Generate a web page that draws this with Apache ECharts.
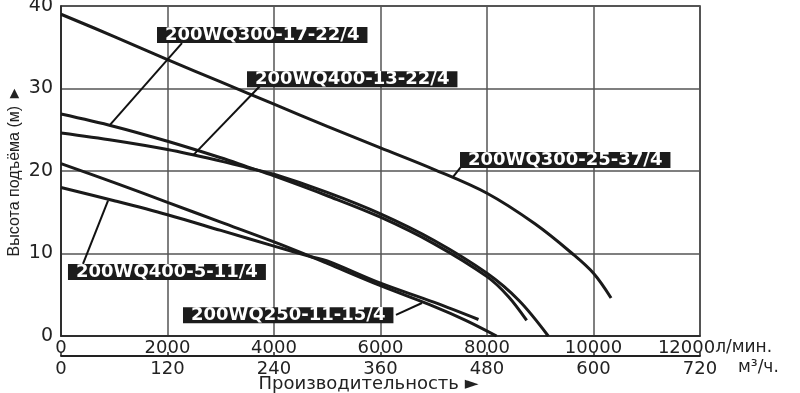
<!DOCTYPE html>
<html>
<head>
<meta charset="utf-8">
<script src="https://cdn.jsdelivr.net/npm/echarts@6/dist/echarts.min.js"></script>
<style>html,body{margin:0;padding:0;background:#fff;}#c{width:800px;height:393px;}</style>
</head>
<body>
<div id="c"></div>
<script>
// Flow ticks (л/мин.) and secondary ticks (м³/ч.)
const flowTicksLmin = [0, 2000, 4000, 6000, 8000, 10000, 12000];
const flowTicksM3h = [0, 120, 240, 360, 480, 600, 720];
const headTicks = [0, 10, 20, 30, 40];

// Curve: 200WQ300-25-37/4
const q300_25 = [0, 1000, 2000, 3000, 4000, 5000, 6000, 7000, 8000, 8900, 9600, 10000, 10330];
const h300_25 = [39.0, 36.3, 33.5, 30.8, 28.1, 25.4, 22.8, 20.2, 17.3, 13.6, 10.0, 7.6, 4.6];
// Curve: 200WQ300-17-22/4
const q300_17 = [0, 1000, 2000, 3000, 3500, 4000, 5000, 6000, 7000, 8000, 8400, 8745];
const h300_17 = [26.9, 25.4, 23.6, 21.6, 20.5, 19.4, 17.0, 14.4, 11.2, 7.2, 4.8, 1.9];
// Curve: 200WQ400-13-22/4
const q400_13 = [0, 1000, 2000, 3000, 3500, 4000, 5000, 6000, 7000, 8000, 8600, 9150];
const h400_13 = [24.6, 23.7, 22.6, 21.2, 20.4, 19.6, 17.4, 14.8, 11.6, 7.6, 4.3, 0];
// Curve: 200WQ250-11-15/4
const q250_11 = [0, 1000, 2000, 3000, 4000, 4700, 5000, 6000, 7000, 7600, 8180];
const h250_11 = [20.9, 18.6, 16.2, 13.8, 11.4, 9.6, 8.8, 6.1, 3.6, 1.9, 0];
// Curve: 200WQ400-5-11/4
const q400_5 = [0, 1000, 2000, 3000, 4000, 4700, 5000, 6000, 7000, 7840];
const h400_5 = [18.0, 16.4, 14.7, 12.8, 10.9, 9.6, 9.1, 6.4, 4.1, 2.0];

// Annotation labels: name, box top-left (data coords), pointer start (data), pointer end on curve (data)
const labelNames = ['200WQ300-17-22/4', '200WQ400-13-22/4', '200WQ300-25-37/4', '200WQ400-5-11/4', '200WQ250-11-15/4'];
const labelBoxPos = [[1803, 37.45], [3493, 32.1], [7493, 22.3], [131, 8.73], [2291, 3.5]];
const pointerFrom = [[2272, 35.5], [3737, 30.3], [7512, 20.5], [413, 8.73], [6291, 2.55]];
const pointerTo = [[920, 25.6], [2479, 21.9], [7362, 19.3], [883, 16.4], [6779, 4.0]];

function zip(a, b) { return a.map((v, i) => [v, b[i]]); }

const chart = echarts.init(document.getElementById('c'), null, {renderer: 'canvas'});
const FONT = 'DejaVu Sans';
const curves = [
  [q300_25, h300_25], [q300_17, h300_17], [q400_13, h400_13], [q250_11, h250_11], [q400_5, h400_5]
];

chart.setOption({
  animation: false,
  backgroundColor: '#ffffff',
  grid: [
    {left: 61, right: 100, top: 6, bottom: 57, show: true, borderColor: '#222', borderWidth: 1.5,
     containLabel: false, outerBoundsMode: 'none'},
    {left: 61, right: 100, top: 336, height: 20, show: false, containLabel: false, outerBoundsMode: 'none'}
  ],
  xAxis: [{
    gridIndex: 0,
    type: 'value', min: flowTicksLmin[0], max: flowTicksLmin[flowTicksLmin.length - 1], interval: 2000,
    position: 'bottom',
    axisLine: {show: true, onZero: false, lineStyle: {color: '#222', width: 1.5}},
    axisTick: {show: false},
    splitLine: {show: true, lineStyle: {color: '#555', width: 1.5}},
    axisLabel: {
      margin: 3, color: '#222', fontFamily: FONT, fontSize: 18,
      formatter: function (v) { return v === 12000 ? '{n|12000}{u|л/мин.}' : String(v); },
      rich: {n: {fontFamily: FONT, fontSize: 18, color: '#222', padding: [0, 0, 0, 30]}, u: {fontFamily: FONT, fontSize: 17, color: '#222'}}
    },
    name: 'Производительность ►', nameLocation: 'middle', nameGap: 39, nameMoveOverlap: false,
    nameTextStyle: {fontFamily: FONT, fontSize: 18, color: '#222', padding: [0, 24, 0, 0]}
  }, {
    gridIndex: 1,
    type: 'value', min: flowTicksM3h[0], max: flowTicksM3h[flowTicksM3h.length - 1], interval: 120,
    position: 'bottom',
    axisLine: {show: true, onZero: false, lineStyle: {color: '#222', width: 1.8}},
    axisTick: {show: true, inside: true, length: 4, lineStyle: {color: '#222', width: 1.5}},
    splitLine: {show: false},
    axisLabel: {margin: 4, color: '#222', fontFamily: FONT, fontSize: 18},
    name: 'м³/ч.', nameLocation: 'end', nameGap: 38, nameMoveOverlap: false,
    nameTextStyle: {fontFamily: FONT, fontSize: 17, color: '#222', verticalAlign: 'top', lineHeight: 24}
  }],
  yAxis: [{
    gridIndex: 0,
    type: 'value', min: headTicks[0], max: headTicks[headTicks.length - 1], interval: 10,
    axisLine: {show: true, onZero: false, lineStyle: {color: '#222', width: 1.5}},
    axisTick: {show: false},
    splitLine: {show: true, lineStyle: {color: '#555', width: 1.5}},
    axisLabel: {margin: 8, color: '#222', fontFamily: FONT, fontSize: 19},
    name: 'Высота подъёма (м) ►', nameLocation: 'middle', nameRotate: 90, nameGap: 38, nameMoveOverlap: false,
    nameTextStyle: {fontFamily: 'Liberation Sans', fontSize: 16, color: '#222'}
  }, {
    gridIndex: 1, type: 'value', min: 0, max: 1, show: false
  }],
  series: curves.map(c => ({
    type: 'line', xAxisIndex: 0, yAxisIndex: 0, data: zip(c[0], c[1]),
    showSymbol: false, smooth: 0.35, lineStyle: {color: '#1a1a1a', width: 3}
  }))
});

const toPx = p => chart.convertToPixel({xAxisIndex: 0, yAxisIndex: 0}, p);
const graphics = [];
labelNames.forEach((name, i) => {
  const a = toPx(pointerFrom[i]), b = toPx(pointerTo[i]);
  graphics.push({type: 'line', z: 50, shape: {x1: a[0], y1: a[1], x2: b[0], y2: b[1]}, style: {stroke: '#111', lineWidth: 2}});
});
labelNames.forEach((name, i) => {
  const p = toPx(labelBoxPos[i]);
  graphics.push({
    type: 'text', z: 60, x: p[0], y: p[1],
    style: {
      text: name, fill: '#ffffff', fontFamily: FONT, fontWeight: 'bold', fontSize: 18,
      backgroundColor: '#1c1c1c', padding: [0, 8, 0, 8], lineHeight: 16,
      align: 'left', verticalAlign: 'top'
    }
  });
});
chart.setOption({graphic: graphics});
</script>
</body>
</html>
